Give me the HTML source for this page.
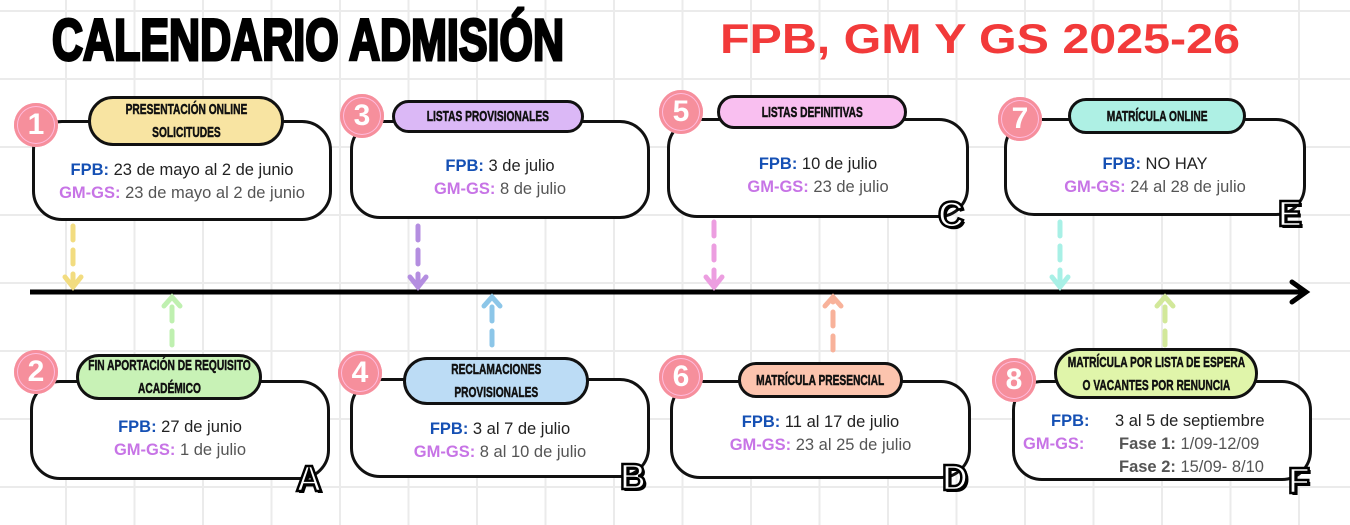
<!DOCTYPE html>
<html><head><meta charset="utf-8"><style>
body{margin:0;width:1350px;height:525px;overflow:hidden;background:#fff;font-family:"Liberation Sans",sans-serif}
.grid{position:absolute;left:0;top:0;width:1350px;height:525px;
background-image:linear-gradient(#ebebeb 2px,transparent 2px),linear-gradient(90deg,#ebebeb 2px,transparent 2px);
background-size:68.5px 68px;background-position:65px 10px}
.box{position:absolute;border:3px solid #111;border-radius:30px;background:#fff;box-sizing:border-box;text-align:center;font-size:16.5px;color:#222;line-height:23px}
.pill{position:absolute;border:3px solid #111;border-radius:26px;box-sizing:border-box;display:flex;align-items:center;justify-content:center;text-align:center;font-weight:bold;font-size:15px;line-height:23px;color:#111;white-space:nowrap;-webkit-text-stroke:0.5px #111}
.pill span{display:inline-block;transform:scaleX(0.68);transform-origin:center}
.num{position:absolute;width:44px;height:44px;border-radius:50%;background:#f68f9c;color:#fff;font-weight:bold;font-size:30px;display:flex;align-items:center;justify-content:center;box-shadow:inset 0 0 0 3px #f68f9c,inset 0 0 0 4px #fbd}
.b{color:#1550b4;font-weight:bold}.p{color:#c774e6;font-weight:bold}.g{color:#555}
.let{position:absolute;font-weight:900;font-size:36px;color:#fff;-webkit-text-stroke:2.5px #000;font-family:"Liberation Sans",sans-serif;text-shadow:2px 2px 0 #000}
</style></head><body>
<div class="grid"></div>
<svg style="position:absolute;left:0;top:0" width="1350" height="525">
<text x="52" y="60" font-family="Liberation Sans,sans-serif" font-weight="bold" font-size="58" textLength="512" lengthAdjust="spacingAndGlyphs" fill="#000" stroke="#000" stroke-width="3">CALENDARIO ADMISIÓN</text>
<text x="720" y="53" font-family="Liberation Sans,sans-serif" font-weight="bold" font-size="42" textLength="520" lengthAdjust="spacingAndGlyphs" fill="#f23a3a">FPB, GM Y GS 2025-26</text>
<line x1="30" y1="292" x2="1305" y2="292" stroke="#000" stroke-width="5"/>
<polyline points="1292,282 1306,292 1292,302" fill="none" stroke="#000" stroke-width="5" stroke-linecap="round"/>
<g stroke-width="5" stroke-linecap="round" fill="none">
<g stroke="#f2dc80"><line x1="73" y1="226" x2="73" y2="286" stroke-dasharray="14 10"/><polyline points="65,277 73,287 81,277"/></g>
<g stroke="#bff0b0"><line x1="172" y1="345" x2="172" y2="300" stroke-dasharray="14 10"/><polyline points="164,306 172,297 180,306"/></g>
<g stroke="#b48ee0"><line x1="418" y1="226" x2="418" y2="286" stroke-dasharray="14 10"/><polyline points="410,277 418,287 426,277"/></g>
<g stroke="#8cc6e8"><line x1="492" y1="345" x2="492" y2="300" stroke-dasharray="14 10"/><polyline points="484,306 492,297 500,306"/></g>
<g stroke="#ec9ee0"><line x1="714" y1="222" x2="714" y2="286" stroke-dasharray="14 10"/><polyline points="706,277 714,287 722,277"/></g>
<g stroke="#f8b29a"><line x1="833" y1="350" x2="833" y2="300" stroke-dasharray="14 10"/><polyline points="825,306 833,297 841,306"/></g>
<g stroke="#a8f0e6"><line x1="1060" y1="222" x2="1060" y2="286" stroke-dasharray="14 10"/><polyline points="1052,277 1060,287 1068,277"/></g>
<g stroke="#d2e89a"><line x1="1165" y1="345" x2="1165" y2="300" stroke-dasharray="14 10"/><polyline points="1157,306 1165,297 1173,306"/></g>
</g>
</svg>

<div class="box" style="left:32px;top:120px;width:300px;height:101px;padding-top:36px"><span class="b">FPB:</span> 23 de mayo al 2 de junio<br><span class="p">GM-GS:</span> <span class="g">23 de mayo al 2 de junio</span></div>
<div class="pill" style="left:88px;top:96px;width:196px;height:50px;background:#f8e4a2"><span>PRESENTACIÓN ONLINE<br>SOLICITUDES</span></div>
<div class="num" style="left:14px;top:103px">1</div>

<div class="box" style="left:350px;top:120px;width:300px;height:99px;padding-top:32px"><span class="b">FPB:</span> 3 de julio<br><span class="p">GM-GS:</span> <span class="g">8 de julio</span></div>
<div class="pill" style="left:392px;top:100px;width:192px;height:33px;background:#dbb8f6"><span>LISTAS PROVISIONALES</span></div>
<div class="num" style="left:340px;top:94px">3</div>

<div class="box" style="left:667px;top:118px;width:302px;height:100px;padding-top:32px"><span class="b">FPB:</span> 10 de julio<br><span class="p">GM-GS:</span> <span class="g">23 de julio</span></div>
<div class="pill" style="left:717px;top:95px;width:190px;height:34px;background:#f9bff0"><span>LISTAS DEFINITIVAS</span></div>
<div class="let" style="left:938px;top:194px">C</div>
<div class="num" style="left:659px;top:90px">5</div>

<div class="box" style="left:1004px;top:118px;width:302px;height:98px;padding-top:32px"><span class="b">FPB:</span> NO HAY<br><span class="p">GM-GS:</span> <span class="g">24 al 28 de julio</span></div>
<div class="pill" style="left:1068px;top:98px;width:178px;height:36px;background:#aef0e4"><span>MATRÍCULA ONLINE</span></div>
<div class="let" style="left:1278px;top:193px">E</div>
<div class="num" style="left:998px;top:97px">7</div>

<div class="box" style="left:30px;top:380px;width:300px;height:100px;padding-top:33px"><span class="b">FPB:</span> 27 de junio<br><span class="p">GM-GS:</span> <span class="g">1 de julio</span></div>
<div class="pill" style="left:76px;top:354px;width:186px;height:46px;background:#c8f2b6"><span>FIN APORTACIÓN DE REQUISITO<br>ACADÉMICO</span></div>
<div class="let" style="left:296px;top:458px">A</div>
<div class="num" style="left:14px;top:350px">2</div>

<div class="box" style="left:350px;top:378px;width:300px;height:100px;padding-top:37px"><span class="b">FPB:</span> 3 al 7 de julio<br><span class="p">GM-GS:</span> <span class="g">8 al 10 de julio</span></div>
<div class="pill" style="left:403px;top:357px;width:186px;height:48px;background:#bcdcf5"><span>RECLAMACIONES<br>PROVISIONALES</span></div>
<div class="let" style="left:620px;top:456px">B</div>
<div class="num" style="left:338px;top:351px">4</div>

<div class="box" style="left:670px;top:380px;width:301px;height:99px;padding-top:28px"><span class="b">FPB:</span> 11 al 17 de julio<br><span class="p">GM-GS:</span> <span class="g">23 al 25 de julio</span></div>
<div class="pill" style="left:738px;top:362px;width:165px;height:36px;background:#fcc4ae"><span>MATRÍCULA PRESENCIAL</span></div>
<div class="let" style="left:942px;top:457px">D</div>
<div class="num" style="left:659px;top:355px">6</div>

<div class="box" style="left:1012px;top:380px;width:300px;height:101px;text-align:left;font-size:16.5px;line-height:22px">
<div style="position:absolute;left:36px;top:27px"><span class="b">FPB:</span></div>
<div style="position:absolute;left:8px;top:50px"><span class="p">GM-GS:</span></div>
<div style="position:absolute;left:100px;top:27px">3 al 5 de septiembre</div>
<div style="position:absolute;left:104px;top:50px" class="g"><b>Fase 1:</b> 1/09-12/09</div>
<div style="position:absolute;left:104px;top:73px" class="g"><b>Fase 2:</b> 15/09- 8/10</div>
</div>
<div class="pill" style="left:1054px;top:348px;width:204px;height:51px;background:#e0f5aa"><span>MATRÍCULA POR LISTA DE ESPERA<br>O VACANTES POR RENUNCIA</span></div>
<div class="let" style="left:1288px;top:460px">F</div>
<div class="num" style="left:992px;top:358px">8</div>
</body></html>
